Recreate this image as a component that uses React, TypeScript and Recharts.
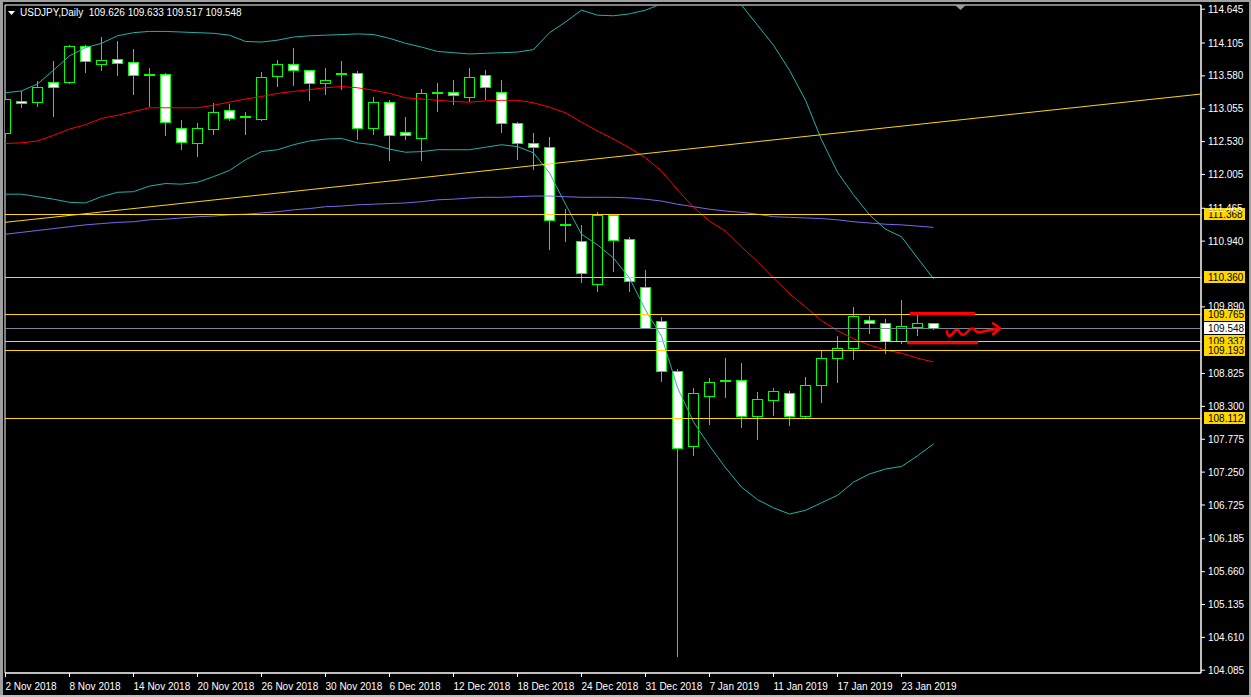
import React from "react";
import {
  ComposedChart,
  Bar,
  Line,
  XAxis,
  YAxis,
  ReferenceLine,
  ReferenceArea,
  ReferenceDot,
} from "recharts";

// daily bars, 2 Nov 2018 .. 25 Jan 2019
const DATE_TICK_BARS = [0, 4, 8, 12, 16, 20, 24, 28, 32, 36, 40, 44, 48, 52, 56];
const DATE_TICKS = [
  "2 Nov 2018", "8 Nov 2018", "14 Nov 2018", "20 Nov 2018", "26 Nov 2018",
  "30 Nov 2018", "6 Dec 2018", "12 Dec 2018", "18 Dec 2018", "24 Dec 2018",
  "31 Dec 2018", "7 Jan 2019", "11 Jan 2019", "17 Jan 2019", "23 Jan 2019",
];

const OPEN = [
  112.67, 113.18, 113.17, 113.48, 113.48, 114.05, 113.77, 113.85, 113.8, 113.61,
  113.61, 112.74, 112.5, 112.73, 113.03, 112.94, 112.89, 113.57, 113.77, 113.67,
  113.46, 113.63, 113.62, 112.74, 113.17, 112.68, 112.58, 113.33, 113.33, 113.25,
  113.59, 113.33, 112.82, 112.5, 112.44, 111.21, 110.94, 110.25, 111.35, 110.97,
  110.2, 109.66, 108.86, 107.66, 108.47, 108.72, 108.72, 108.14, 108.41, 108.51,
  108.15, 108.64, 109.08, 109.24, 109.68, 109.64, 109.35, 109.57, 109.626,
];
const HIGH = [
  113.26, 113.34, 113.5, 113.81, 114.07, 114.07, 114.2, 114.14, 114.01, 113.71,
  113.63, 112.88, 112.82, 113.14, 113.13, 113.0, 113.64, 113.83, 114.02, 113.68,
  113.7, 113.81, 113.65, 113.24, 113.19, 112.92, 113.37, 113.46, 113.51, 113.7,
  113.67, 113.51, 112.84, 112.66, 112.61, 111.45, 111.2, 111.4, 111.37, 111.0,
  110.48, 109.72, 108.89, 108.59, 108.75, 109.08, 109.0, 108.53, 108.6, 108.54,
  108.77, 109.19, 109.42, 109.89, 109.74, 109.7, 110.0, 109.79, 109.633,
];
const LOW = [
  112.59, 113.06, 113.09, 112.93, 113.45, 113.63, 113.65, 113.57, 113.27, 113.09,
  112.62, 112.4, 112.29, 112.64, 112.86, 112.64, 112.86, 113.41, 113.42, 113.18,
  113.27, 113.36, 112.56, 112.64, 112.22, 112.56, 112.22, 113.0, 113.12, 113.17,
  113.19, 112.67, 112.24, 112.08, 110.8, 110.92, 110.27, 110.13, 110.45, 110.13,
  109.54, 108.69, 104.29, 107.51, 108.0, 108.44, 107.96, 107.76, 108.14, 107.98,
  108.11, 108.36, 108.68, 109.04, 109.46, 109.14, 109.3, 109.42, 109.517,
];
const CLOSE = [
  113.21, 113.14, 113.4, 113.4, 114.05, 113.81, 113.83, 113.78, 113.59, 113.6,
  112.85, 112.53, 112.74, 113.01, 112.9, 112.93, 113.56, 113.77, 113.67, 113.46,
  113.52, 113.62, 112.74, 113.17, 112.64, 112.63, 113.3, 113.3, 113.27, 113.56,
  113.4, 112.82, 112.5, 112.45, 111.28, 111.2, 110.43, 111.35, 110.95, 110.3,
  109.55, 108.86, 107.63, 108.51, 108.69, 108.71, 108.15, 108.42, 108.54, 108.15,
  108.64, 109.08, 109.24, 109.74, 109.64, 109.35, 109.58, 109.63, 109.548,
];

// bollinger bands (20) and the slow moving average
const BB_UPPER = [
  113.31, 113.34, 113.45, 113.67, 113.9, 114.03, 114.1, 114.22, 114.27, 114.29,
  114.29, 114.28, 114.27, 114.26, 114.23, 114.13, 114.12, 114.15, 114.2, 114.22,
  114.23, 114.24, 114.25, 114.24, 114.18, 114.1, 114.04, 113.97, 113.95, 113.93,
  113.94, 113.95, 113.96, 114.0, 114.27, 114.44, 114.63, 114.55, 114.54, 114.57,
  114.63, 114.73, 114.85, 114.92, 114.93, 114.88, 114.71, 114.39, 114.07, 113.67,
  113.19, 112.56, 112.04, 111.68, 111.36, 111.13, 111.01, 110.67, 110.34,
];
const BB_MIDDLE = [
  112.5, 112.51, 112.54, 112.63, 112.73, 112.8, 112.9, 112.95, 113.01, 113.07,
  113.07, 113.07, 113.07, 113.11, 113.16, 113.21, 113.25, 113.3, 113.33, 113.36,
  113.39, 113.41, 113.39, 113.35, 113.3, 113.23, 113.21, 113.19, 113.17, 113.16,
  113.18, 113.19, 113.19, 113.15, 113.08, 112.99, 112.84, 112.7, 112.57, 112.43,
  112.27, 112.06, 111.76, 111.48, 111.26, 111.1, 110.85, 110.61, 110.35, 110.1,
  109.89, 109.67, 109.51, 109.38, 109.28, 109.2, 109.15, 109.07, 109.01,
];
const BB_LOWER = [
  111.69, 111.69, 111.65, 111.61, 111.56, 111.55, 111.65, 111.72, 111.73, 111.82,
  111.86, 111.85, 111.88, 111.97, 112.07, 112.24, 112.37, 112.4, 112.48, 112.54,
  112.57, 112.58, 112.51, 112.48, 112.41, 112.36, 112.37, 112.4, 112.4, 112.4,
  112.44, 112.48, 112.45, 112.35, 112.03, 111.53, 111.05, 110.88, 110.67, 110.35,
  109.84, 109.42, 108.6, 108.05, 107.67, 107.32, 107.01, 106.81, 106.68, 106.58,
  106.64, 106.76, 106.88, 107.09, 107.22, 107.3, 107.34, 107.51, 107.7,
];
const MA_SLOW = [
  111.05, 111.08, 111.11, 111.14, 111.17, 111.2, 111.22, 111.24, 111.25, 111.28,
  111.29, 111.31, 111.33, 111.34, 111.36, 111.37, 111.39, 111.41, 111.44, 111.46,
  111.49, 111.5, 111.52, 111.53, 111.54, 111.55, 111.57, 111.6, 111.61, 111.63,
  111.64, 111.64, 111.65, 111.66, 111.66, 111.65, 111.64, 111.64, 111.64, 111.63,
  111.61, 111.58, 111.53, 111.49, 111.45, 111.42, 111.4, 111.37, 111.33, 111.32,
  111.31, 111.3, 111.28, 111.25, 111.23, 111.21, 111.2, 111.18, 111.16,
];

const PRICE_TICKS = [
  114.645, 114.105, 113.58, 113.055, 112.53, 112.005, 111.465, 110.94, 109.89,
  108.825, 108.3, 107.775, 107.25, 106.725, 106.185, 105.66, 105.135, 104.61, 104.085,
];
const LEVELS = [111.368, 110.36, 109.765, 109.337, 109.193, 108.112];
const BID = 109.548;
const TREND = [111.24, 113.29];
const BOX_TOP = 109.784;
const BOX_BOTTOM = 109.318;

const X_MIN = -0.03125;
const X_MAX = 74.71875;
const Y_MIN = 104.041;
const Y_MAX = 114.712;

const LIME = "#00ff00";
const GOLD = "#ffd700";
const SEA = "#20b2aa";
const FONT = "'Liberation Sans', Arial, sans-serif";

const rows = OPEN.map((o, i) => ({
  i,
  open: o,
  high: HIGH[i],
  low: LOW[i],
  close: CLOSE[i],
  range: [LOW[i], HIGH[i]],
  up: BB_UPPER[i],
  mid: BB_MIDDLE[i],
  lo: BB_LOWER[i],
  ma: MA_SLOW[i],
}));

function Candle(props: any) {
  const { x, y, width, height, payload } = props;
  if (x == null || !payload) return null;
  const top = Math.min(y, y + height);
  const h = Math.abs(height);
  const { open, close, high, low } = payload;
  const py = (v: number) => top + ((high - v) / (high - low)) * h;
  const cx = Math.floor(x + width / 2);
  const bull = close >= open;
  const bt = Math.round(py(Math.max(open, close)));
  let bb = Math.round(py(Math.min(open, close)));
  if (bb - bt < 1) bb = bt + 1;
  return (
    <g shapeRendering="crispEdges">
      <line x1={cx + 0.5} x2={cx + 0.5} y1={py(high)} y2={py(low)} stroke={LIME} />
      <rect
        x={cx - 5 + 0.5}
        y={bt + 0.5}
        width={10}
        height={bb - bt}
        fill={bull ? "#000" : "#fff"}
        stroke={LIME}
      />
    </g>
  );
}

function PriceTag({ viewBox, value, bg }: any) {
  if (!viewBox) return null;
  const right = viewBox.x + viewBox.width;
  const yy = viewBox.y;
  return (
    <g>
      <rect x={right + 3} y={Math.round(yy) - 6} width={41} height={12} fill={bg} />
      <text x={right + 7} y={yy} dy="0.36em" fontSize={10} fontFamily={FONT} fill="#000">
        {value.toFixed(3)}
      </text>
    </g>
  );
}

function Squiggle(props: any) {
  const { cx, cy } = props;
  if (cx == null) return null;
  const d =
    "M1,3 C1,7 3,9 6,6 C9,2 11,0 13,3 C15,7 18,8 21,4 C24,0 27,-1 29,2 C31,5 34,4 38,3 L54,0 M47,-5 L54,0 L47,6";
  return (
    <path
      d={d}
      transform={`translate(${cx},${cy})`}
      fill="none"
      stroke="#ff0000"
      strokeWidth={2.5}
      strokeLinecap="round"
      strokeLinejoin="round"
    />
  );
}

export default function App() {
  return (
    <div style={{ position: "fixed", left: 0, top: 0, width: 1251, height: 697, background: "#000" }}>
      <ComposedChart
        width={1251}
        height={697}
        data={rows}
        margin={{ top: 5, right: 0, bottom: 0, left: 5 }}
      >
        <XAxis
          type="number"
          dataKey="i"
          domain={[X_MIN, X_MAX]}
          allowDataOverflow
          ticks={DATE_TICK_BARS}
          interval={0}
          tickFormatter={(v: number) => DATE_TICKS[DATE_TICK_BARS.indexOf(v)] ?? ""}
          height={24}
          tickSize={4}
          tickMargin={6}
          axisLine={{ stroke: "#fff" }}
          tickLine={{ stroke: "#fff" }}
          tick={{ fill: "#fff", fontSize: 10, fontFamily: FONT, textAnchor: "start" }}
        />
        <YAxis
          orientation="right"
          domain={[Y_MIN, Y_MAX]}
          allowDataOverflow
          ticks={PRICE_TICKS}
          interval={0}
          width={50}
          tickSize={4}
          tickMargin={3}
          tickFormatter={(v: number) => v.toFixed(3)}
          axisLine={{ stroke: "#fff" }}
          tickLine={{ stroke: "#fff" }}
          tick={{ fill: "#fff", fontSize: 10, fontFamily: FONT }}
        />
        <ReferenceArea
          x1={X_MIN}
          x2={X_MAX}
          y1={Y_MIN}
          y2={Y_MAX}
          fill="none"
          stroke="#fff"
          fillOpacity={0}
        />
        <Bar
          dataKey="range"
          barSize={11}
          isAnimationActive={false}
          shape={(p: any) => <Candle {...p} />}
        />
        <Line type="linear" dataKey="ma" stroke="#7b68ee" strokeWidth={1} dot={false} activeDot={false} isAnimationActive={false} />
        <Line type="linear" dataKey="up" stroke={SEA} strokeWidth={1} dot={false} activeDot={false} isAnimationActive={false} />
        <Line type="linear" dataKey="lo" stroke={SEA} strokeWidth={1} dot={false} activeDot={false} isAnimationActive={false} />
        <Line type="linear" dataKey="mid" stroke="#ff0000" strokeWidth={1} dot={false} activeDot={false} isAnimationActive={false} />
        <ReferenceLine
          segment={[{ x: X_MIN, y: TREND[0] }, { x: X_MAX, y: TREND[1] }]}
          stroke={GOLD}
          strokeWidth={1}
        />
        {LEVELS.map((v) => (
          <ReferenceLine
            key={v}
            y={v}
            stroke={GOLD}
            strokeWidth={1}
            shapeRendering="crispEdges"
            label={(p: any) => <PriceTag viewBox={p.viewBox} value={v} bg={GOLD} />}
          />
        ))}
        <ReferenceLine
          y={BID}
          stroke="#778899"
          strokeWidth={1}
          shapeRendering="crispEdges"
          label={(p: any) => <PriceTag viewBox={p.viewBox} value={BID} bg="#fff" />}
        />
        <ReferenceLine
          segment={[{ x: 56.53, y: BOX_TOP }, { x: 60.59, y: BOX_TOP }]}
          stroke="#ff0000"
          strokeWidth={3}
        />
        <ReferenceLine
          segment={[{ x: 56.34, y: BOX_BOTTOM }, { x: 60.78, y: BOX_BOTTOM }]}
          stroke="#ff0000"
          strokeWidth={3}
        />
        <ReferenceDot x={58.78} y={BID} r={1} shape={(p: any) => <Squiggle {...p} />} />
      </ComposedChart>

      <svg style={{ position: "absolute", left: 0, top: 0 }} width={1251} height={697}>
        <rect x={0} y={0} width={1251} height={2} fill="#a0a0a0" />
        <rect x={0} y={0} width={3} height={697} fill="#a0a0a0" />
        <rect x={1249} y={0} width={2} height={697} fill="#a0a0a0" />
        <rect x={0} y={695} width={1251} height={2} fill="#c0c0c0" />
        <path d="M8,11 L15,11 L11.5,15 Z" fill="#fff" />
        <path d="M955,5 L966,5 L960.5,10 Z" fill="#9a9a9a" />
      </svg>
      <div
        style={{
          position: "absolute",
          left: 20,
          top: 8,
          color: "#fff",
          fontFamily: FONT,
          fontSize: 10,
          lineHeight: "10px",
          whiteSpace: "pre",
        }}
      >
        {"USDJPY,Daily  109.626 109.633 109.517 109.548"}
      </div>
    </div>
  );
}
